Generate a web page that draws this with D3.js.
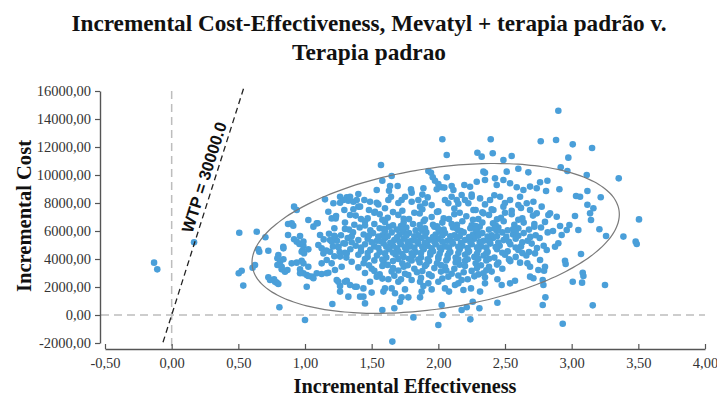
<!DOCTYPE html>
<html><head><meta charset="utf-8">
<script src="https://cdn.jsdelivr.net/npm/d3@7"></script>
<style>body{margin:0;background:#fff}</style>
</head><body><svg id="c" width="717" height="398"></svg>
<script>
const titleLines = ["Incremental Cost-Effectiveness, Mevatyl + terapia padrão v.", "Terapia padrao"];
const xLabel = "Incremental Effectiveness";
const yLabel = "Incremental Cost";
const xTicks = [-0.5, 0, 0.5, 1, 1.5, 2, 2.5, 3, 3.5, 4];
const yTicks = [-2000, 0, 2000, 4000, 6000, 8000, 10000, 12000, 14000, 16000];
const wtp = 30000;
const wtpLabel = "WTP = 30000.0";
const wtpEffRange = [-0.065, 0.54];
const ellipseCenter = [1.98, 5470];
const ellipseMajor = [1.375, 2010];
const ellipseMinor = [0.0805, -4960];
// [incremental effectiveness, incremental cost in thousands]
const outerSamples = [
[-0.132,3.74],[-0.108,3.26],[0.168,5.19],[0.507,5.88],[0.638,5.95],[0.703,5.55],[0.65,4.69],[0.657,4.52],[0.725,4.59],[0.625,3.57],[0.607,3.38],[0.503,2.98],[0.525,3.16],[0.537,2.1],[0.725,2.69],[0.768,2.55],[0.788,2.31],[0.808,0.55],[1.0,-0.36],[0.873,6.5],[0.912,6.38],[0.873,5.71],[0.963,5.64],[0.918,5.41],[0.938,5.24],[0.958,5.07],[0.988,4.93],[0.98,4.59],[0.993,4.41],[0.8,4.29],[0.793,4.05],[0.813,3.81],[0.793,3.57],[0.825,3.26],[0.85,3.09],[0.868,3.21],[0.938,3.74],[0.975,3.88],[0.963,3.26],[0.988,2.98],[1.013,2.86],[1.013,2.02],[0.837,4.88],[0.9,3.69],
[0.918,7.74],[0.938,7.5],[0.9,6.55],[1.025,6.79],
[2.03,12.55],[2.063,11.43],[1.57,10.71],[1.925,10.29],[1.945,10.16],[1.58,9.59],[1.65,9.93],[2.063,9.84],[1.958,9.84],[1.975,9.59],[2.0,9.36],[2.025,9.12],[1.638,9.21],[1.695,9.21],[1.63,8.88],[1.645,8.45],[1.625,8.21],[1.538,8.93],[1.795,8.98],[1.8,8.74],[1.888,9.05],[1.988,8.98],[2.045,9.1],[2.1,9.21],[2.113,8.93],[2.195,9.29],[2.238,9.16],
[1.15,8.26],[1.213,7.98],[1.263,8.02],[1.313,8.41],[1.325,8.16],[1.4,8.64],[1.445,8.21],[1.488,8.09],[1.538,8.02],[1.525,7.38],[1.4,7.74],[1.363,7.55],[1.295,7.5],[1.23,6.9],[1.095,6.55],
[1.725,8.21],[1.75,8.45],[1.8,8.09],[1.85,8.21],[1.9,7.98],[1.863,7.74],[2.05,8.21],[2.075,7.98],[2.1,8.45],[2.138,8.21],[2.175,8.57],[2.2,8.21],[2.225,7.98],[2.25,8.45],
[2.9,14.59],[2.393,12.55],[2.768,12.41],[2.883,12.5],[3.008,12.19],[3.153,11.93],[2.293,11.59],[2.325,11.31],[2.408,11.55],[2.55,11.36],[2.488,11.07],[2.975,11.24],[2.918,10.55],[2.968,10.29],[3.113,10.0],[3.353,9.76],[2.6,10.45],[2.675,10.19],[2.338,10.24],[2.35,10.16],[2.513,10.24],[2.818,9.59],[2.763,9.48],[2.808,8.86],[2.908,8.98],[3.033,8.5],[3.063,8.45],[3.118,8.86],[3.218,8.41],[3.118,7.88],[3.163,7.62],[3.138,7.26],[3.025,7.07],[2.888,7.02],[2.825,7.14],[3.505,6.83],
[2.288,9.52],[2.35,9.64],[2.425,9.76],[2.438,9.29],[2.488,9.64],[2.538,9.41],[2.588,9.12],[2.638,8.93],[2.688,9.17],[2.738,9.05],
[2.313,8.33],[2.388,8.21],[2.463,8.45],[2.538,8.21],[2.613,8.45],[2.663,7.98],[2.713,8.09],[2.775,7.74],[2.838,7.26],[2.688,7.5],[2.738,7.26],[2.488,7.74],[2.413,7.5],[2.338,7.26],[2.263,7.5],
[3.258,5.64],[3.388,5.6],[3.48,5.24],[3.488,5.07],[3.07,4.36],[2.95,3.88],[2.955,3.64],[3.083,3.02],[3.088,2.79],[3.008,2.38],[3.078,2.31],[3.25,2.14],[3.158,0.69],[2.933,-0.62],[2.783,0.71],[2.803,1.26],[2.788,2.14],[2.783,2.5],[2.793,3.16],[2.983,6.43],[3.05,6.07],[2.913,6.36],[3.145,6.79],[3.208,6.12],
[2.688,2.74],[2.713,2.62],[2.668,3.69],[2.613,3.74],[2.575,2.45],[2.538,2.26],[2.475,2.14],[2.443,2.55],[2.443,0.88],[2.338,2.98],[2.35,2.26],[2.313,1.67],[2.308,0.48],[2.258,0.95],[2.24,-0.31],
[2.763,3.93],[2.8,3.45],[2.75,3.21],[2.688,3.45],[2.725,4.4],[2.813,4.64],[2.875,4.88],[2.9,5.12],[2.925,5.71],[2.963,6.07],
[1.655,-1.9],[1.813,-0.17],[2.0,-0.71],[2.033,0.0],[2.025,0.71],[2.213,0.55],[2.175,0.36],
[1.58,0.36],[1.67,0.48],[1.713,0.95],[1.725,1.26],[1.775,1.26],[1.675,1.55],[1.205,0.79],
[1.438,1.31],[1.5,1.6],[1.6,1.9],[1.588,1.67],[1.65,1.9],[1.75,1.83],[1.863,1.26],[1.888,2.07],[1.95,1.83],[1.875,1.67],[2.05,1.9],[2.08,1.67],[2.125,2.14],[2.188,1.79],[2.245,1.9],[2.175,2.5],[1.263,2.07],[1.263,1.67],[1.375,2.02],[1.313,2.45],[1.238,2.5],[1.05,2.74],[1.088,2.98],[1.125,2.93],[1.175,3.02],
[1.488,2.38],[1.538,2.74],[1.625,2.55],[1.7,2.38],[1.775,2.86],[1.8,2.5],[1.863,2.38],[1.925,2.26],[2.0,2.38],[2.075,2.74],[2.15,2.26],
[0.838,4.76],[0.838,3.98],[0.825,3.45],[0.738,2.5],[0.775,2.38],[0.8,2.21],[0.988,5.24],[0.975,4.52],[1.025,4.69],[1.063,6.31],[1.088,6.55],[1.113,5.71],[1.125,4.76],[1.138,4.4],[1.025,3.45],[0.988,3.69],[0.963,2.98],[1.025,2.79],[1.063,2.62],[1.163,2.98],[1.125,3.69],[1.163,3.93],[1.2,3.69],
[1.263,8.45],[1.288,8.21],[1.338,8.45],[1.363,8.09],[1.175,7.38],[1.2,6.9],[1.233,7.07],[1.338,7.14],[1.388,8.21],[1.413,7.74],[1.188,5.36],[1.225,5.59],[1.25,4.88],[1.288,5.12],[1.188,4.52],[1.263,4.17],[1.313,4.4],[1.225,3.21],[1.275,3.45],[1.25,2.38],[1.3,2.38],[1.338,2.14],[1.325,1.31],[1.388,2.02],[1.438,1.9],[1.413,1.31],[1.45,0.83]
];
const coreSamples = [
[1.48,7.5],[1.6,7.62],[1.73,7.45],[1.88,7.55],[2.0,7.4],[2.12,7.6],[2.28,7.5],[2.4,7.55],[2.55,7.45],[2.62,7.65],
[1.55,7.9],[1.7,8.0],[1.95,7.85],[2.15,7.95],[2.35,7.9],[2.5,8.0],[2.6,7.85],[1.88,8.6],[2.25,8.6],[2.42,8.55],[1.92,8.4],
[1.38,7.1],[1.47,6.9],[1.56,7.2],[1.62,6.95],[1.7,7.15],[1.78,6.85],[1.86,7.25],[1.95,7.0],[2.04,6.9],[2.12,7.2],[2.21,7.05],[2.3,6.85],[2.38,7.15],[2.47,6.95],[2.55,7.2],[2.63,6.9],[2.71,7.1],
[1.3,6.6],[1.37,6.45],[1.45,6.7],[1.52,6.5],[1.6,6.65],[1.66,6.4],[1.74,6.6],[1.81,6.5],[1.89,6.7],[1.96,6.45],[2.03,6.6],[2.1,6.5],[2.18,6.7],[2.25,6.4],[2.33,6.6],[2.41,6.55],[2.49,6.7],[2.57,6.45],[2.64,6.6],[2.72,6.5],[2.8,6.65],
[1.22,6.2],[1.33,6.1],[1.41,6.25],[1.49,6.05],[1.56,6.2],[1.63,6.3],[1.69,6.1],[1.76,6.25],[1.83,6.05],[1.9,6.2],[1.97,6.3],[2.04,6.1],[2.11,6.25],[2.17,6.0],[2.24,6.2],[2.31,6.3],[2.38,6.1],[2.45,6.25],[2.52,6.05],[2.6,6.2],[2.68,6.1],[2.77,6.25],[2.86,6.0],
[1.18,5.8],[1.27,5.7],[1.36,5.9],[1.44,5.75],[1.51,5.85],[1.58,5.7],[1.65,5.9],[1.71,5.75],[1.78,5.85],[1.85,5.7],[1.91,5.9],[1.98,5.75],[2.05,5.85],[2.12,5.7],[2.19,5.9],[2.26,5.75],[2.33,5.85],[2.4,5.7],[2.48,5.9],[2.56,5.75],[2.64,5.85],[2.73,5.7],[2.82,5.9],
[1.14,5.4],[1.24,5.3],[1.32,5.5],[1.4,5.35],[1.47,5.45],[1.54,5.3],[1.6,5.5],[1.67,5.35],[1.74,5.45],[1.8,5.3],[1.87,5.5],[1.93,5.35],[2.0,5.45],[2.07,5.3],[2.14,5.5],[2.2,5.35],[2.27,5.45],[2.34,5.3],[2.41,5.5],[2.49,5.35],[2.58,5.45],[2.67,5.3],[2.76,5.5],
[1.1,5.0],[1.21,4.9],[1.3,5.1],[1.38,4.95],[1.45,5.05],[1.52,4.9],[1.59,5.1],[1.66,4.95],[1.72,5.05],[1.79,4.9],[1.85,5.1],[1.92,4.95],[1.98,5.05],[2.05,4.9],[2.11,5.1],[2.18,4.95],[2.25,5.05],[2.32,4.9],[2.39,5.1],[2.46,4.95],[2.54,5.05],[2.62,4.9],[2.7,5.1],[2.79,4.95],
[1.16,4.6],[1.26,4.5],[1.34,4.7],[1.42,4.55],[1.49,4.65],[1.56,4.5],[1.63,4.7],[1.7,4.55],[1.76,4.65],[1.83,4.5],[1.89,4.7],[1.96,4.55],[2.02,4.65],[2.09,4.5],[2.16,4.7],[2.23,4.55],[2.3,4.65],[2.37,4.5],[2.44,4.7],[2.52,4.55],[2.6,4.65],[2.68,4.5],
[1.22,4.2],[1.31,4.1],[1.4,4.3],[1.47,4.15],[1.54,4.25],[1.61,4.1],[1.68,4.3],[1.74,4.15],[1.81,4.25],[1.87,4.1],[1.94,4.3],[2.0,4.15],[2.07,4.25],[2.13,4.1],[2.2,4.3],[2.27,4.15],[2.34,4.25],[2.42,4.1],[2.5,4.3],[2.58,4.15],[2.66,4.25],
[1.35,3.8],[1.44,3.7],[1.52,3.9],[1.59,3.75],[1.66,3.85],[1.73,3.7],[1.8,3.9],[1.86,3.75],[1.93,3.85],[1.99,3.7],[2.06,3.9],[2.13,3.75],[2.2,3.85],[2.28,3.7],[2.36,3.9],[2.45,3.75],[2.54,3.85],
[1.4,3.4],[1.5,3.3],[1.58,3.5],[1.66,3.35],[1.74,3.45],[1.82,3.3],[1.9,3.5],[1.97,3.35],[2.05,3.45],[2.12,3.3],[2.2,3.5],[2.29,3.35],[2.38,3.45],[2.48,3.3],
[1.45,3.0],[1.56,2.9],[1.65,3.1],[1.75,2.95],[1.84,3.05],[1.93,2.9],[2.02,3.1],[2.1,2.95],[2.19,3.05],[2.3,2.9],[2.4,3.1],
[1.58,2.6],[1.72,2.55],[1.87,2.65],[2.03,2.6],[2.22,2.55],[2.35,2.7],
[1.72,6.35],[1.86,6.42],[1.99,6.33],[2.14,6.44],[2.28,6.36],[2.43,6.4],
[1.6,6.0],[1.74,5.95],[1.88,6.02],[2.01,5.96],[2.15,6.04],[2.29,5.97],[2.44,6.01],[2.58,5.95],
[1.55,5.6],[1.69,5.55],[1.82,5.62],[1.96,5.57],[2.09,5.63],[2.23,5.56],[2.37,5.6],[2.51,5.58],
[1.5,5.2],[1.64,5.15],[1.77,5.22],[1.9,5.17],[2.03,5.23],[2.17,5.16],[2.31,5.21],[2.45,5.18],
[1.55,4.8],[1.69,4.76],[1.82,4.82],[1.95,4.77],[2.08,4.83],[2.22,4.78],[2.36,4.81],
[1.6,4.4],[1.73,4.36],[1.87,4.42],[2.01,4.37],[2.15,4.43],[2.29,4.38],
[1.7,4.0],[1.85,3.96],[2.0,4.02],[2.15,3.97],[2.3,4.01]
];
const denseSamples = [
[1.52,7.3],[1.66,7.35],[1.82,7.3],[1.99,7.36],[2.16,7.3],[2.33,7.34],[2.5,7.3],
[1.42,6.85],[1.58,6.8],[1.74,6.88],[1.9,6.82],[2.08,6.86],[2.26,6.8],[2.44,6.84],[2.6,6.8],
[1.3,6.15],[1.45,6.4],[1.59,6.15],[1.73,6.12],[1.87,6.17],[2.0,6.14],[2.14,6.16],[2.28,6.12],[2.42,6.17],[2.56,6.13],[2.72,6.3],
[1.22,5.65],[1.35,5.62],[1.48,5.67],[1.62,5.63],[1.76,5.66],[1.9,5.62],[2.03,5.67],[2.16,5.63],[2.3,5.66],[2.44,5.62],[2.6,5.66],[2.69,5.58],
[1.2,5.25],[1.35,5.2],[1.57,5.26],[1.71,5.22],[1.84,5.27],[1.97,5.23],[2.1,5.26],[2.24,5.22],[2.38,5.27],[2.53,5.23],[2.63,5.2],
[1.25,4.85],[1.42,4.82],[1.61,4.87],[1.75,4.83],[1.88,4.86],[2.01,4.82],[2.15,4.87],[2.29,4.83],[2.43,4.86],[2.58,4.82],[2.74,4.78],
[1.3,4.45],[1.47,4.42],[1.66,4.46],[1.8,4.41],[1.94,4.46],[2.08,4.42],[2.22,4.46],[2.36,4.41],[2.48,4.45],[2.63,4.42],
[1.45,4.0],[1.58,3.96],[1.78,4.02],[1.92,3.98],[2.07,4.03],[2.22,3.98],[2.38,4.02],[2.53,3.97],
[1.48,3.55],[1.62,3.58],[1.77,3.55],[1.91,3.6],[2.02,3.56],[2.16,3.59],[2.32,3.55],[2.44,3.6],
[1.52,3.15],[1.7,3.18],[1.88,3.14],[2.06,3.18],[2.25,3.15],[2.36,3.2],
[1.67,2.8],[1.95,2.78],[2.15,2.82],[2.27,2.76]
];

const svg = d3.select("#c");
const x = d3.scaleLinear().domain([-0.5, 4]).range([105, 705]);
const y = d3.scaleLinear().domain([-2000, 16000]).range([343, 91]);
const loc = d3.formatLocale({decimal: ",", thousands: ".", grouping: [3], currency: ["", ""], minus: "-"});
const fmt = loc.format(".2f");
const serif = "'Liberation Serif','Times New Roman',serif";

// title
svg.selectAll("text.title").data(titleLines).join("text")
  .attr("class", "title")
  .attr("x", 369).attr("y", (d, i) => 31 + i * 29)
  .attr("text-anchor", "middle")
  .attr("font-family", serif).attr("font-weight", "bold").attr("font-size", 24)
  .attr("textLength", (d, i) => i === 0 ? 595 : 154)
  .attr("lengthAdjust", "spacingAndGlyphs")
  .attr("fill", "#111")
  .text(d => d);

// reference dashed lines
svg.append("line")
  .attr("x1", x(0)).attr("x2", x(0)).attr("y1", y(16000)).attr("y2", 349)
  .attr("stroke", "#bdbdbd").attr("stroke-width", 1.5).attr("stroke-dasharray", "8,5");
svg.append("line")
  .attr("x1", 101).attr("x2", x(4)).attr("y1", y(0)).attr("y2", y(0))
  .attr("stroke", "#bdbdbd").attr("stroke-width", 1.5).attr("stroke-dasharray", "8,5");

// points
const allPts = outerSamples.concat(coreSamples, denseSamples);
svg.append("g").selectAll("circle").data(allPts).join("circle")
  .attr("cx", d => x(d[0])).attr("cy", d => y(d[1] * 1000))
  .attr("r", 3.3).attr("fill", "#4a9fd9");

// ellipse
const ts = d3.range(0, 360, 3).map(a => a * Math.PI / 180);
const ellPts = ts.map(t => [
  ellipseCenter[0] + ellipseMajor[0] * Math.cos(t) + ellipseMinor[0] * Math.sin(t),
  ellipseCenter[1] + ellipseMajor[1] * Math.cos(t) + ellipseMinor[1] * Math.sin(t)
]);
svg.append("path")
  .attr("d", d3.line().x(d => x(d[0])).y(d => y(d[1])).curve(d3.curveCardinalClosed)(ellPts))
  .attr("fill", "none").attr("stroke", "#7a7a7a").attr("stroke-width", 1.2);

// WTP line
svg.append("line")
  .attr("x1", x(wtpEffRange[0])).attr("y1", y(wtpEffRange[0] * wtp))
  .attr("x2", x(wtpEffRange[1])).attr("y2", y(wtpEffRange[1] * wtp))
  .attr("stroke", "#222").attr("stroke-width", 1.3).attr("stroke-dasharray", "6,4");
const dx = x(1) - x(0), dy = y(wtp) - y(0);
const len = Math.hypot(dx, dy);
const ang = Math.atan2(dy, dx) * 180 / Math.PI;
const nx = dy / len, ny = -dx / len;
const c0 = 9600;
const lx = x(c0 / wtp) + nx * 5, ly = y(c0) + ny * 5;
svg.append("text")
  .attr("transform", `translate(${lx},${ly}) rotate(${ang})`)
  .attr("text-anchor", "middle")
  .attr("font-family", "'Liberation Sans',Arial,sans-serif").attr("font-weight", "bold")
  .attr("font-size", 16.5).attr("fill", "#111")
  .text(wtpLabel);

// axes
const yAxis = d3.axisLeft(y).tickValues(yTicks).tickFormat(fmt).tickSizeInner(5).tickSizeOuter(0).tickPadding(4);
const gy = svg.append("g").attr("transform", "translate(100,0)").call(yAxis);
const xAxis = d3.axisBottom(x).tickValues(xTicks).tickFormat(fmt).tickSizeInner(-5).tickSizeOuter(0).tickPadding(9);
const gx = svg.append("g").attr("transform", "translate(0,349)").call(xAxis);
[gx, gy].forEach(g => {
  g.select(".domain").attr("stroke", "#555").attr("stroke-width", 1.4);
  g.selectAll(".tick line").attr("stroke", "#555").attr("stroke-width", 1.2);
  g.selectAll(".tick text").attr("font-family", serif).attr("font-size", 14.5).attr("fill", "#333");
});

// axis titles
svg.append("text")
  .attr("x", 405).attr("y", 393).attr("text-anchor", "middle")
  .attr("font-family", serif).attr("font-weight", "bold").attr("font-size", 20)
  .attr("textLength", 223).attr("lengthAdjust", "spacingAndGlyphs").attr("fill", "#111")
  .text(xLabel);
svg.append("text")
  .attr("transform", "translate(31,216) rotate(-90)").attr("text-anchor", "middle")
  .attr("font-family", serif).attr("font-weight", "bold").attr("font-size", 20)
  .attr("textLength", 152).attr("lengthAdjust", "spacingAndGlyphs").attr("fill", "#111")
  .text(yLabel);
</script></body></html>
